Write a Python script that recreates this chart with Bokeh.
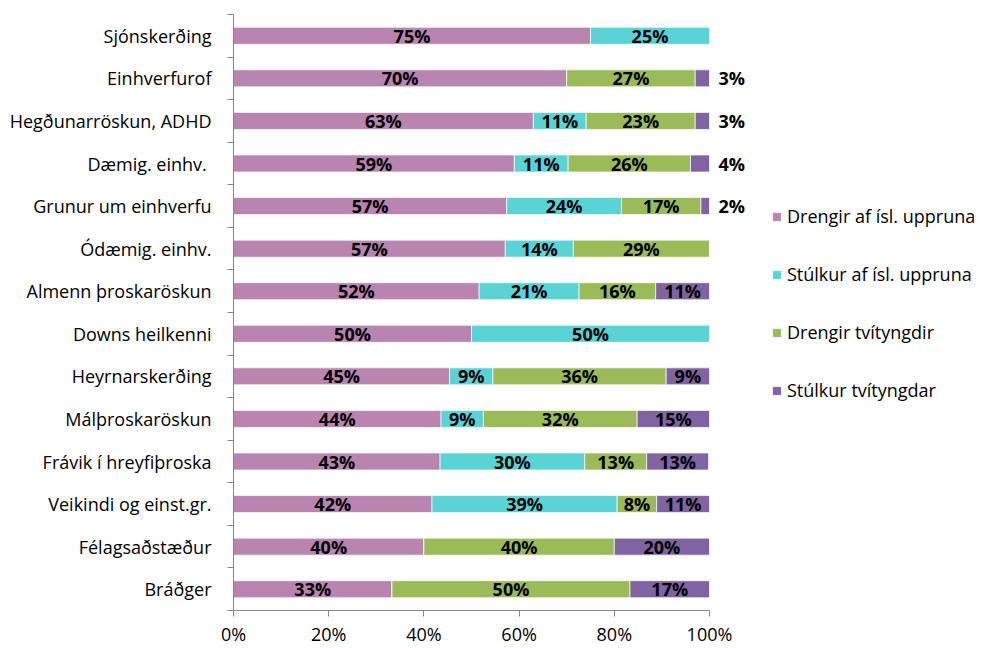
from bokeh.plotting import figure
from bokeh.models import ColumnDataSource, Range1d, FixedTicker, Legend, LegendItem
from bokeh.core.properties import value
from bokeh.embed import file_html
from bokeh.resources import INLINE

categories = ["Sjónskerðing", "Einhverfurof", "Hegðunarröskun, ADHD", "Dæmig. einhv. ",
              "Grunur um einhverfu", "Ódæmig. einhv.", "Almenn þroskaröskun", "Downs heilkenni",
              "Heyrnarskerðing", "Málþroskaröskun", "Frávik í hreyfiþroska", "Veikindi og einst.gr.",
              "Félagsaðstæður", "Bráðger"]
series = ["Drengir af ísl. uppruna", "Stúlkur af ísl. uppruna", "Drengir tvítyngdir", "Stúlkur tvítyngdar"]
drengir_isl = [75, 70, 63, 59, 57.4, 57.1, 51.6, 50, 45.4, 43.6, 43.4, 41.7, 40, 33.3]
stulkur_isl = [25, 0, 11.1, 11.3, 24.1, 14.3, 21.0, 50, 9.1, 8.9, 30.4, 38.9, 0, 0]
drengir_tvi = [0, 27, 22.9, 25.7, 16.7, 28.6, 16.1, 0, 36.4, 32.3, 13.0, 8.3, 40, 50]
stulkur_tvi = [0, 3, 3.0, 4.0, 1.8, 0, 11.3, 0, 9.1, 15.2, 13.0, 11.1, 20, 16.7]
x_ticks = [0, 20, 40, 60, 80, 100]
x_tick_labels = ["0%", "20%", "40%", "60%", "80%", "100%"]

colors = ["#B984B0", "#5AD3D7", "#9BBB59", "#8064A2"]
FONT = "Open Sans"

n = len(categories)
ypos = list(range(n))
data = dict(y=ypos)
keys = ["s0", "s1", "s2", "s3"]
vals = [drengir_isl, stulkur_isl, drengir_tvi, stulkur_tvi]
for k, v in zip(keys, vals):
    data[k] = v
source = ColumnDataSource(data)

W, H = 982, 648
left, right, top, bottom = 233, 5, 14, 37
frame_w = W - left - right
px_per_pct = 4.76
p = figure(width=W, height=H, output_backend="svg", toolbar_location=None,
           x_range=Range1d(0, frame_w / px_per_pct), y_range=Range1d(n - 0.5, -0.5),
           min_border_left=left, min_border_right=right, min_border_top=top, min_border_bottom=bottom)
p.outline_line_color = None
p.xgrid.visible = False
p.ygrid.visible = False

renderers = p.hbar_stack(keys, y="y", height=0.4, color=colors, source=source,
                         line_color="white", line_width=0.7)

# labels
lx, ly, lt = [], [], []
out_x, out_y, out_t = [], [], []
for i in range(n):
    cum = 0
    for j, v in enumerate(vals):
        val = v[i]
        if val > 0:
            if j == 3 and val < 5:
                out_x.append(cum + val)
                out_y.append(i)
                out_t.append(f"{round(val)}%")
            else:
                lx.append(cum + val / 2)
                ly.append(i)
                lt.append(f"{round(val)}%")
        cum += val
p.text(x=lx, y=ly, text=lt, text_align="center", text_baseline="middle",
       text_font=value(FONT), text_font_style="bold", text_font_size="18px", text_color="black")
p.text(x=out_x, y=out_y, text=out_t, text_align="left", text_baseline="middle", x_offset=9,
       text_font=value(FONT), text_font_style="bold", text_font_size="18px", text_color="black")

# axes
p.xaxis.ticker = FixedTicker(ticks=x_ticks)
p.xaxis.bounds = (0, 100)
p.xaxis.major_label_overrides = {t: l for t, l in zip(x_ticks, x_tick_labels)}
p.xaxis.major_tick_out = 6
p.xaxis.major_tick_in = 0
p.xaxis.minor_tick_line_color = None
p.xaxis.major_label_standoff = 5
for ax in (p.xaxis, p.yaxis):
    ax.axis_line_color = "#868686"
    ax.major_tick_line_color = "#868686"
    ax.major_label_text_font = FONT
    ax.major_label_text_font_size = "18px"
    ax.major_label_text_color = "black"

p.yaxis.ticker = FixedTicker(ticks=ypos, minor_ticks=[i - 0.5 for i in range(n + 1)])
p.yaxis.major_label_overrides = {i: c for i, c in enumerate(categories)}
p.yaxis.major_tick_out = 0
p.yaxis.major_tick_in = 0
p.yaxis.minor_tick_out = 6
p.yaxis.minor_tick_in = 0
p.yaxis.minor_tick_line_color = "#868686"
p.yaxis.major_label_standoff = 16

legend = Legend(items=[LegendItem(label=s, renderers=[r]) for s, r in zip(series, renderers)],
                location=(538, 208), padding=0, margin=0, spacing=34,
                glyph_width=11, glyph_height=11, label_standoff=5,
                label_text_font=FONT, label_text_font_size="18px", label_text_color="black",
                border_line_color=None, background_fill_alpha=0)
p.add_layout(legend)

open("out.html", "w").write(file_html(p, INLINE))
